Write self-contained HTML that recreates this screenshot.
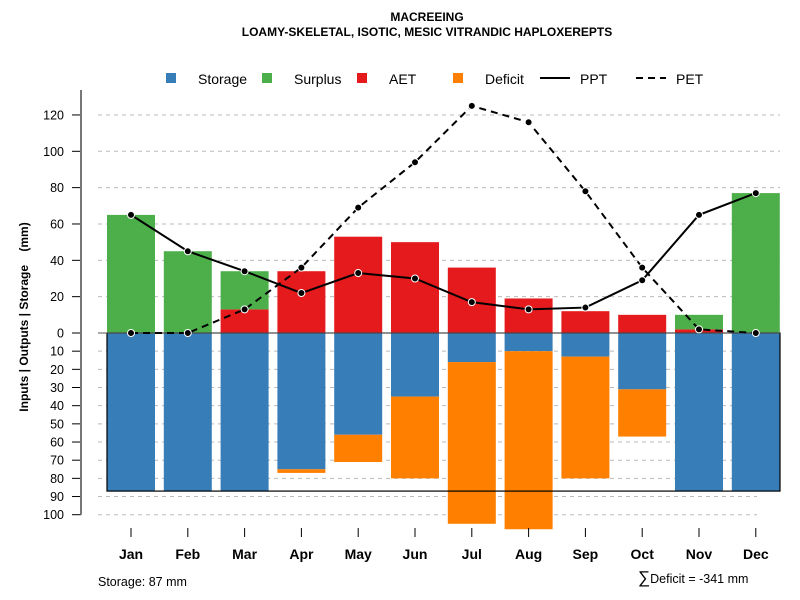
<!DOCTYPE html>
<html><head><meta charset="utf-8"><style>
body{margin:0;background:#fff;}
svg{font-family:"Liberation Sans",sans-serif;display:block}
</style></head><body>
<svg id="c" width="800" height="600" xmlns="http://www.w3.org/2000/svg">
<text x="427" y="21" text-anchor="middle" font-size="12" font-weight="bold">MACREEING</text>
<text x="427" y="36" text-anchor="middle" font-size="12" font-weight="bold">LOAMY-SKELETAL, ISOTIC, MESIC VITRANDIC HAPLOXEREPTS</text>
<g id="legend">
<rect x="166" y="73" width="10" height="10" fill="#377eb8"/><text x="198" y="84" font-size="14">Storage</text>
<rect x="262" y="73" width="10" height="10" fill="#4daf4a"/><text x="294" y="84" font-size="14">Surplus</text>
<rect x="357" y="73" width="10" height="10" fill="#e41a1c"/><text x="389" y="84" font-size="14">AET</text>
<rect x="453" y="73" width="10" height="10" fill="#ff7f00"/><text x="485" y="84" font-size="14">Deficit</text>
<line x1="540" y1="78" x2="570" y2="78" stroke="#000" stroke-width="2"/><text x="580" y="84" font-size="14">PPT</text>
<line x1="636" y1="78" x2="666" y2="78" stroke="#000" stroke-width="2" stroke-dasharray="7,5"/><text x="676" y="84" font-size="14">PET</text>
</g>
<g id="grid"></g><g id="bars"></g><g id="lines"></g><g id="axes"></g>
<text transform="translate(28,317) rotate(-90)" text-anchor="middle" font-size="12" font-weight="bold" xml:space="preserve">Inputs | Outputs | Storage    (mm)</text>
<text x="98" y="586" font-size="12.5">Storage: 87 mm</text>
<text x="638" y="583" font-size="12.5"><tspan font-size="17">∑</tspan>Deficit = -341 mm</text>
</svg>
<script>
const months=["Jan","Feb","Mar","Apr","May","Jun","Jul","Aug","Sep","Oct","Nov","Dec"];
const aet=[0,0,13,34,53,50,36,19,12,10,2,0];
const surplus=[65,45,21,0,0,0,0,0,0,0,8,77];
const storage=[87,87,87,75,56,35,16,10,13,31,87,87];
const deficit=[0,0,0,2,15,45,89,98,67,26,0,0];
const ppt=[65,45,34,22,33,30,17,13,14,29,65,77];
const pet=[0,0,13,36,69,94,125,116,78,36,2,0];
const upTicks=[0,20,40,60,80,100,120];
const downTicks=[10,20,30,40,50,60,70,80,90,100];
const NS="http://www.w3.org/2000/svg";
const y0=333,k=1.817;
const yU=v=>y0-v*k, yD=v=>y0+v*k, xC=i=>131+i*56.8;
function mk(p,t,a){const e=document.createElementNS(NS,t);for(const n in a)e.setAttribute(n,a[n]);p.appendChild(e);return e;}
const G=document.getElementById('grid'),B=document.getElementById('bars'),L=document.getElementById('lines'),A=document.getElementById('axes');
upTicks.concat(downTicks.map(v=>-v)).forEach(v=>{const y=v>=0?yU(v):yD(-v);
 if(v!==0){const g=mk(G,'line',{x1:98,x2:v<-85?757:780,y1:y,y2:y,stroke:'#bbb','stroke-dasharray':'4,4'});
 
 }
 const t=mk(A,'line',{x1:72,x2:81,y1:y,y2:y,stroke:'#000'});
 
 
 const tx=mk(A,'text',{x:64,y:y+4.5,'text-anchor':'end','font-size':12.5});tx.textContent=Math.abs(v);
 
 
});
const ax=mk(A,'line',{x1:81,x2:81,y1:90,y2:yD(100),stroke:'#777','stroke-width':2});


const w=48;
function bar(x,ya,yb,c,n){const r=mk(B,'rect',{x:x-w/2,y:Math.min(ya,yb),width:w,height:Math.abs(yb-ya),fill:c});
 
 }
months.forEach((m,i)=>{const x=xC(i);
 bar(x,yU(0),yU(aet[i]),'#e41a1c','bar-aet-'+m.toLowerCase());
 bar(x,yU(aet[i]),yU(aet[i]+surplus[i]),'#4daf4a','bar-surplus-'+m.toLowerCase());
 bar(x,yD(0),yD(storage[i]),'#377eb8','bar-storage-'+m.toLowerCase());
 bar(x,yD(storage[i]),yD(storage[i]+deficit[i]),'#ff7f00','bar-deficit-'+m.toLowerCase());
 const t=mk(A,'line',{x1:x,x2:x,y1:528,y2:537,stroke:'#000'});
 
 
 const l=mk(A,'text',{x:x,y:559,'text-anchor':'middle','font-size':14,'font-weight':'bold'});l.textContent=m;
 
 
});
const box=mk(B,'rect',{x:107,y:y0,width:673,height:87*k,fill:'none',stroke:'#000','stroke-width':1.2});


const zl=mk(B,'line',{x1:98,x2:780,y1:y0,y2:y0,stroke:'#555'});


function series(d,dash,n){const p=mk(L,'polyline',{points:d.map((v,i)=>xC(i)+','+yU(v)).join(' '),fill:'none',stroke:'#000','stroke-width':2,'stroke-dasharray':dash});
 
 
 d.forEach((v,i)=>{const c=mk(L,'circle',{cx:xC(i),cy:yU(v),r:3.5,fill:'#000',stroke:'#fff','stroke-width':1});
 
 });}
series(pet,'7,5','pet');
series(ppt,'none','ppt');
</script>
</body></html>
